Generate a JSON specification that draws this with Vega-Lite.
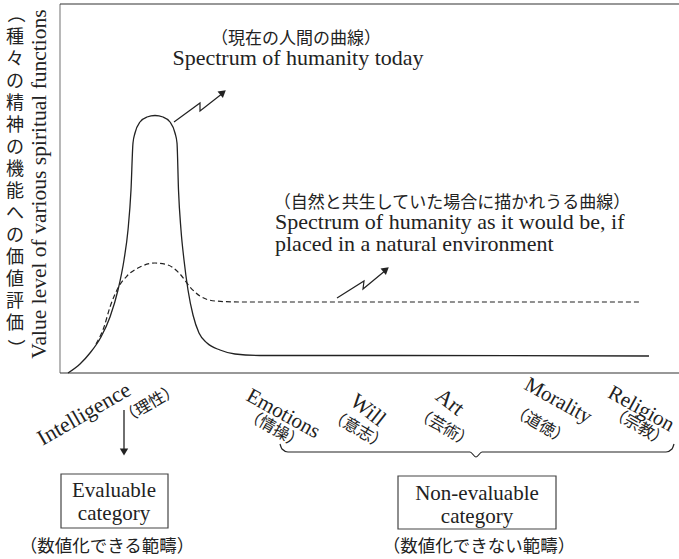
{
  "$schema": "https://vega.github.io/schema/vega-lite/v6.json",
  "width": 619,
  "height": 369,
  "autosize": {"type": "none"},
  "padding": {"left": 60, "top": 4, "right": 0, "bottom": 186},
  "background": "white",
  "config": {"view": {"stroke": null}},
  "datasets": {
    "frameGray": [{"x": 0, "y": 0, "x2": 0, "y2": 369}],
    "frameDark": [{"x": 0, "y": 369, "x2": 619, "y2": 369}, {"x": 0, "y": 0, "x2": 619, "y2": 0}],
    "solid": [
      {"x": 8, "y": 0}, {"x": 20, "y": 9}, {"x": 30, "y": 20}, {"x": 41, "y": 36}, {"x": 50, "y": 56},
      {"x": 58, "y": 83}, {"x": 64, "y": 113}, {"x": 68, "y": 143}, {"x": 71, "y": 183}, {"x": 73, "y": 230},
      {"x": 75, "y": 240}, {"x": 80, "y": 251}, {"x": 87, "y": 256}, {"x": 95, "y": 257.5},
      {"x": 103, "y": 256}, {"x": 110, "y": 251}, {"x": 115, "y": 240}, {"x": 117, "y": 230},
      {"x": 118.5, "y": 183}, {"x": 121, "y": 143},
      {"x": 124, "y": 113}, {"x": 128, "y": 83}, {"x": 133, "y": 58}, {"x": 139, "y": 40}, {"x": 147, "y": 30},
      {"x": 160, "y": 23}, {"x": 175, "y": 19}, {"x": 200, "y": 17.5}, {"x": 340, "y": 17.5}, {"x": 589, "y": 17}
    ],
    "dashed": [
      {"x": 36, "y": 29}, {"x": 44, "y": 46}, {"x": 50, "y": 66}, {"x": 58, "y": 85}, {"x": 67, "y": 97},
      {"x": 80, "y": 106}, {"x": 95, "y": 110}, {"x": 108, "y": 108}, {"x": 120, "y": 99}, {"x": 130, "y": 86},
      {"x": 140, "y": 77}, {"x": 155, "y": 72}, {"x": 180, "y": 71}, {"x": 580, "y": 71}
    ],
    "arrow1": [{"i": 1, "x": 114, "y": 251}, {"i": 2, "x": 140, "y": 270}, {"i": 3, "x": 140, "y": 262}, {"i": 4, "x": 163, "y": 280}],
    "arrow2": [{"i": 1, "x": 277, "y": 75}, {"i": 2, "x": 304, "y": 92}, {"i": 3, "x": 303, "y": 84}, {"i": 4, "x": 326, "y": 103}],
    "heads": [{"x": 163, "y": 280.5}, {"x": 326, "y": 103.5}],
    "downArrow": [{"x": 64, "y": -37, "x2": 64, "y2": -76}],
    "downHead": [{"x": 64, "y": -79}],
    "brace": [
      {"i": 1, "x": 220, "y": -71}, {"i": 2, "x": 222, "y": -76}, {"i": 3, "x": 228, "y": -79}, {"i": 4, "x": 410, "y": -79},
      {"i": 5, "x": 416, "y": -84}, {"i": 6, "x": 422, "y": -79}, {"i": 7, "x": 606, "y": -79}, {"i": 8, "x": 612, "y": -76}, {"i": 9, "x": 614, "y": -71}
    ],
    "boxes": [{"x": 1, "x2": 108, "y": -101, "y2": -155}, {"x": 338, "x2": 496, "y": -103, "y2": -156}],
    "cjkTop": [
      {"t": "（現在の人間の曲線）", "x": 236, "y": 334},
      {"t": "（自然と共生していた場合に描かれうる曲線）", "x": 392, "y": 170}
    ],
    "cjkBottom": [
      {"t": "（数値化できる範疇）", "x": 47, "y": -174},
      {"t": "（数値化できない範疇）", "x": 419, "y": -174}
    ],
    "enCenter": [{"t": "Spectrum of humanity today", "x": 238, "y": 315}],
    "boxText": [
      {"t": "Evaluable", "x": 54, "y": -118}, {"t": "category", "x": 54, "y": -141},
      {"t": "Non-evaluable", "x": 417, "y": -121}, {"t": "category", "x": 417, "y": -144}
    ],
    "enLeft": [
      {"t": "Spectrum of humanity as it would be, if", "x": 215, "y": 151},
      {"t": "placed in a natural environment", "x": 215, "y": 129}
    ],
    "yTitleEn": [{"t": "Value level of various spiritual functions", "x": -20, "y": 189}],
    "yTitleJa": [{"t": ["種", "々", "の", "精", "神", "の", "機", "能", "へ", "の", "価", "値", "評", "価"], "x": -45, "y": 335}],
    "yTitleParen": [{"t": "（", "x": -45, "y": 359}, {"t": "）", "x": -45, "y": 25}],
    "intel": [{"t": "Intelligence", "x": 24, "y": -41}],
    "intelJa": [{"t": "（理性）", "x": 90, "y": -31}],
    "catsA": [{"t": "Emotions", "x": 223, "y": -41}, {"t": "Morality", "x": 498, "y": -28}, {"t": "Religion", "x": 581, "y": -36}],
    "catsB": [{"t": "Will", "x": 308, "y": -37}, {"t": "Art", "x": 390, "y": -29}],
    "catsJa": [
      {"t": "（情操）", "x": 214, "y": -56}, {"t": "（意志）", "x": 298, "y": -57}, {"t": "（芸術）", "x": 384, "y": -55},
      {"t": "（道徳）", "x": 480, "y": -52}, {"t": "（宗教）", "x": 579, "y": -54}
    ]
  },
  "encoding": {
    "x": {"field": "x", "type": "quantitative", "scale": {"domain": [0, 619], "nice": false, "zero": false}, "axis": null},
    "y": {"field": "y", "type": "quantitative", "scale": {"domain": [0, 369], "nice": false, "zero": false}, "axis": null}
  },
  "layer": [
    {"data": {"name": "frameGray"}, "mark": {"type": "rule", "color": "#888", "strokeWidth": 1.2},
     "encoding": {"x2": {"field": "x2"}, "y2": {"field": "y2"}}},
    {"data": {"name": "frameDark"}, "mark": {"type": "rule", "color": "#333", "strokeWidth": 1.2},
     "encoding": {"x2": {"field": "x2"}, "y2": {"field": "y2"}}},
    {"data": {"name": "solid"}, "mark": {"type": "line", "interpolate": "monotone", "color": "#222", "strokeWidth": 1.3}},
    {"data": {"name": "dashed"}, "mark": {"type": "line", "interpolate": "monotone", "color": "#222", "strokeWidth": 1.2, "strokeDash": [5, 3]}},
    {"data": {"name": "arrow1"}, "mark": {"type": "line", "color": "#222", "strokeWidth": 1.2}, "encoding": {"order": {"field": "i"}}},
    {"data": {"name": "arrow2"}, "mark": {"type": "line", "color": "#222", "strokeWidth": 1.2}, "encoding": {"order": {"field": "i"}}},
    {"data": {"name": "heads"}, "mark": {"type": "point", "shape": "triangle-up", "filled": true, "color": "#222", "opacity": 1, "size": 70, "angle": 50}},
    {"data": {"name": "downArrow"}, "mark": {"type": "rule", "color": "#222", "strokeWidth": 1.3},
     "encoding": {"x2": {"field": "x2"}, "y2": {"field": "y2"}}},
    {"data": {"name": "downHead"}, "mark": {"type": "point", "shape": "triangle-down", "filled": true, "color": "#222", "opacity": 1, "size": 70}},
    {"data": {"name": "brace"}, "mark": {"type": "line", "color": "#222", "strokeWidth": 1.2, "interpolate": "monotone"}, "encoding": {"order": {"field": "i"}}},
    {"data": {"name": "boxes"}, "mark": {"type": "rect", "fill": "white", "stroke": "#444", "strokeWidth": 1.2},
     "encoding": {"x2": {"field": "x2"}, "y2": {"field": "y2"}}},
    {"data": {"name": "cjkTop"}, "mark": {"type": "text", "font": "Noto Sans CJK JP", "fontSize": 17, "align": "center", "baseline": "middle", "color": "#222"},
     "encoding": {"text": {"field": "t"}}},
    {"data": {"name": "cjkBottom"}, "mark": {"type": "text", "font": "Noto Sans CJK JP", "fontSize": 17.5, "align": "center", "baseline": "middle", "color": "#222"},
     "encoding": {"text": {"field": "t"}}},
    {"data": {"name": "enCenter"}, "mark": {"type": "text", "font": "Liberation Serif", "fontSize": 22, "align": "center", "baseline": "middle", "color": "#222"},
     "encoding": {"text": {"field": "t"}}},
    {"data": {"name": "boxText"}, "mark": {"type": "text", "font": "Liberation Serif", "fontSize": 21, "align": "center", "baseline": "middle", "color": "#222"},
     "encoding": {"text": {"field": "t"}}},
    {"data": {"name": "enLeft"}, "mark": {"type": "text", "font": "Liberation Serif", "fontSize": 22, "align": "left", "baseline": "middle", "color": "#222"},
     "encoding": {"text": {"field": "t"}}},
    {"data": {"name": "yTitleEn"}, "mark": {"type": "text", "font": "Liberation Serif", "fontSize": 21.5, "align": "center", "baseline": "middle", "angle": 270, "color": "#222"},
     "encoding": {"text": {"field": "t"}}},
    {"data": {"name": "yTitleJa"}, "mark": {"type": "text", "font": "Noto Sans CJK JP", "fontSize": 18, "lineHeight": 22, "align": "center", "baseline": "middle", "color": "#222"},
     "encoding": {"text": {"field": "t"}}},
    {"data": {"name": "yTitleParen"}, "mark": {"type": "text", "font": "Noto Sans CJK JP", "fontSize": 18, "align": "center", "baseline": "middle", "angle": 90, "color": "#222"},
     "encoding": {"text": {"field": "t"}}},
    {"data": {"name": "intel"}, "mark": {"type": "text", "font": "Liberation Serif", "fontSize": 22, "align": "center", "baseline": "middle", "angle": 330, "color": "#222"},
     "encoding": {"text": {"field": "t"}}},
    {"data": {"name": "intelJa"}, "mark": {"type": "text", "font": "Noto Sans CJK JP", "fontSize": 16, "align": "center", "baseline": "middle", "angle": 330, "color": "#222"},
     "encoding": {"text": {"field": "t"}}},
    {"data": {"name": "catsA"}, "mark": {"type": "text", "font": "Liberation Serif", "fontSize": 21, "align": "center", "baseline": "middle", "angle": 29, "color": "#222"},
     "encoding": {"text": {"field": "t"}}},
    {"data": {"name": "catsB"}, "mark": {"type": "text", "font": "Liberation Serif", "fontSize": 22, "align": "center", "baseline": "middle", "angle": 38, "color": "#222"},
     "encoding": {"text": {"field": "t"}}},
    {"data": {"name": "catsJa"}, "mark": {"type": "text", "font": "Noto Sans CJK JP", "fontSize": 16, "align": "center", "baseline": "middle", "angle": 30, "color": "#222"},
     "encoding": {"text": {"field": "t"}}}
  ]
}
